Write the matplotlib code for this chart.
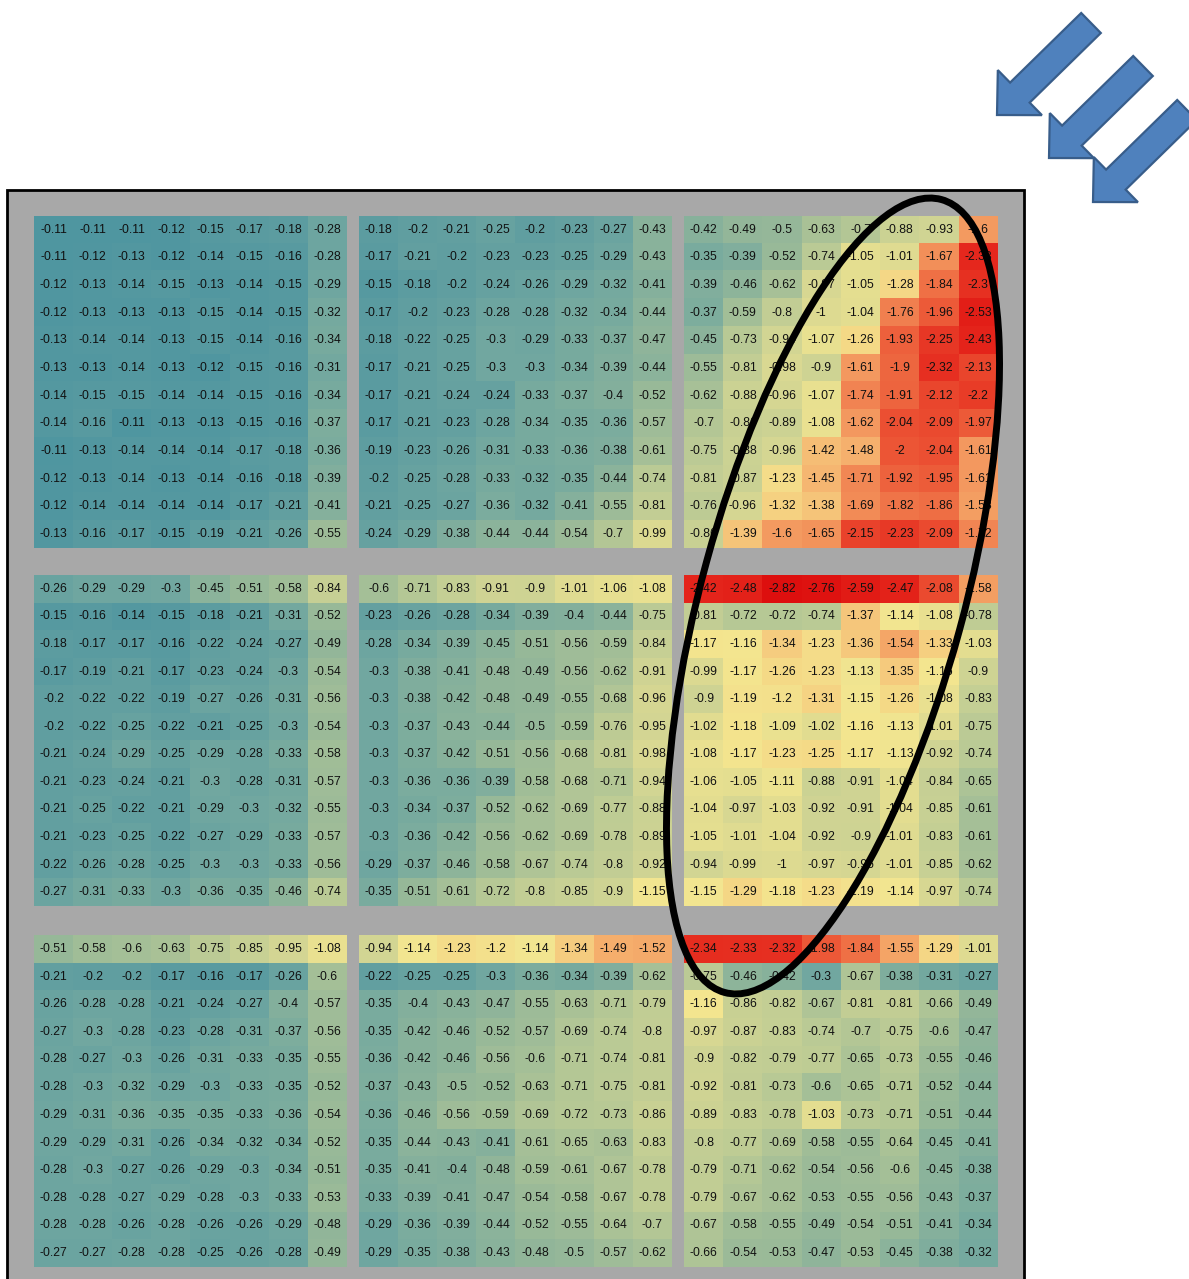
import matplotlib
matplotlib.use("Agg")
import matplotlib.pyplot as plt
import numpy as np
from matplotlib.colors import LinearSegmentedColormap, Normalize
from matplotlib.patches import Rectangle, Ellipse, FancyArrow

W, H = 1189, 1279

# ---- cell values, 3 x 3 blocks of 12 rows x 8 columns ----
block_11 = [
    [-0.11, -0.11, -0.11, -0.12, -0.15, -0.17, -0.18, -0.28],
    [-0.11, -0.12, -0.13, -0.12, -0.14, -0.15, -0.16, -0.28],
    [-0.12, -0.13, -0.14, -0.15, -0.13, -0.14, -0.15, -0.29],
    [-0.12, -0.13, -0.13, -0.13, -0.15, -0.14, -0.15, -0.32],
    [-0.13, -0.14, -0.14, -0.13, -0.15, -0.14, -0.16, -0.34],
    [-0.13, -0.13, -0.14, -0.13, -0.12, -0.15, -0.16, -0.31],
    [-0.14, -0.15, -0.15, -0.14, -0.14, -0.15, -0.16, -0.34],
    [-0.14, -0.16, -0.11, -0.13, -0.13, -0.15, -0.16, -0.37],
    [-0.11, -0.13, -0.14, -0.14, -0.14, -0.17, -0.18, -0.36],
    [-0.12, -0.13, -0.14, -0.13, -0.14, -0.16, -0.18, -0.39],
    [-0.12, -0.14, -0.14, -0.14, -0.14, -0.17, -0.21, -0.41],
    [-0.13, -0.16, -0.17, -0.15, -0.19, -0.21, -0.26, -0.55],
]
block_12 = [
    [-0.18, -0.2, -0.21, -0.25, -0.2, -0.23, -0.27, -0.43],
    [-0.17, -0.21, -0.2, -0.23, -0.23, -0.25, -0.29, -0.43],
    [-0.15, -0.18, -0.2, -0.24, -0.26, -0.29, -0.32, -0.41],
    [-0.17, -0.2, -0.23, -0.28, -0.28, -0.32, -0.34, -0.44],
    [-0.18, -0.22, -0.25, -0.3, -0.29, -0.33, -0.37, -0.47],
    [-0.17, -0.21, -0.25, -0.3, -0.3, -0.34, -0.39, -0.44],
    [-0.17, -0.21, -0.24, -0.24, -0.33, -0.37, -0.4, -0.52],
    [-0.17, -0.21, -0.23, -0.28, -0.34, -0.35, -0.36, -0.57],
    [-0.19, -0.23, -0.26, -0.31, -0.33, -0.36, -0.38, -0.61],
    [-0.2, -0.25, -0.28, -0.33, -0.32, -0.35, -0.44, -0.74],
    [-0.21, -0.25, -0.27, -0.36, -0.32, -0.41, -0.55, -0.81],
    [-0.24, -0.29, -0.38, -0.44, -0.44, -0.54, -0.7, -0.99],
]
block_13 = [
    [-0.42, -0.49, -0.5, -0.63, -0.7, -0.88, -0.93, -1.6],
    [-0.35, -0.39, -0.52, -0.74, -1.05, -1.01, -1.67, -2.38],
    [-0.39, -0.46, -0.62, -0.97, -1.05, -1.28, -1.84, -2.3],
    [-0.37, -0.59, -0.8, -1, -1.04, -1.76, -1.96, -2.53],
    [-0.45, -0.73, -0.94, -1.07, -1.26, -1.93, -2.25, -2.43],
    [-0.55, -0.81, -0.98, -0.9, -1.61, -1.9, -2.32, -2.13],
    [-0.62, -0.88, -0.96, -1.07, -1.74, -1.91, -2.12, -2.2],
    [-0.7, -0.86, -0.89, -1.08, -1.62, -2.04, -2.09, -1.97],
    [-0.75, -0.88, -0.96, -1.42, -1.48, -2, -2.04, -1.61],
    [-0.81, -0.87, -1.23, -1.45, -1.71, -1.92, -1.95, -1.61],
    [-0.76, -0.96, -1.32, -1.38, -1.69, -1.82, -1.86, -1.58],
    [-0.86, -1.39, -1.6, -1.65, -2.15, -2.23, -2.09, -1.72],
]
block_21 = [
    [-0.26, -0.29, -0.29, -0.3, -0.45, -0.51, -0.58, -0.84],
    [-0.15, -0.16, -0.14, -0.15, -0.18, -0.21, -0.31, -0.52],
    [-0.18, -0.17, -0.17, -0.16, -0.22, -0.24, -0.27, -0.49],
    [-0.17, -0.19, -0.21, -0.17, -0.23, -0.24, -0.3, -0.54],
    [-0.2, -0.22, -0.22, -0.19, -0.27, -0.26, -0.31, -0.56],
    [-0.2, -0.22, -0.25, -0.22, -0.21, -0.25, -0.3, -0.54],
    [-0.21, -0.24, -0.29, -0.25, -0.29, -0.28, -0.33, -0.58],
    [-0.21, -0.23, -0.24, -0.21, -0.3, -0.28, -0.31, -0.57],
    [-0.21, -0.25, -0.22, -0.21, -0.29, -0.3, -0.32, -0.55],
    [-0.21, -0.23, -0.25, -0.22, -0.27, -0.29, -0.33, -0.57],
    [-0.22, -0.26, -0.28, -0.25, -0.3, -0.3, -0.33, -0.56],
    [-0.27, -0.31, -0.33, -0.3, -0.36, -0.35, -0.46, -0.74],
]
block_22 = [
    [-0.6, -0.71, -0.83, -0.91, -0.9, -1.01, -1.06, -1.08],
    [-0.23, -0.26, -0.28, -0.34, -0.39, -0.4, -0.44, -0.75],
    [-0.28, -0.34, -0.39, -0.45, -0.51, -0.56, -0.59, -0.84],
    [-0.3, -0.38, -0.41, -0.48, -0.49, -0.56, -0.62, -0.91],
    [-0.3, -0.38, -0.42, -0.48, -0.49, -0.55, -0.68, -0.96],
    [-0.3, -0.37, -0.43, -0.44, -0.5, -0.59, -0.76, -0.95],
    [-0.3, -0.37, -0.42, -0.51, -0.56, -0.68, -0.81, -0.98],
    [-0.3, -0.36, -0.36, -0.39, -0.58, -0.68, -0.71, -0.94],
    [-0.3, -0.34, -0.37, -0.52, -0.62, -0.69, -0.77, -0.88],
    [-0.3, -0.36, -0.42, -0.56, -0.62, -0.69, -0.78, -0.89],
    [-0.29, -0.37, -0.46, -0.58, -0.67, -0.74, -0.8, -0.92],
    [-0.35, -0.51, -0.61, -0.72, -0.8, -0.85, -0.9, -1.15],
]
block_23 = [
    [-2.42, -2.48, -2.82, -2.76, -2.59, -2.47, -2.08, -1.58],
    [-0.81, -0.72, -0.72, -0.74, -1.37, -1.14, -1.08, -0.78],
    [-1.17, -1.16, -1.34, -1.23, -1.36, -1.54, -1.33, -1.03],
    [-0.99, -1.17, -1.26, -1.23, -1.13, -1.35, -1.16, -0.9],
    [-0.9, -1.19, -1.2, -1.31, -1.15, -1.26, -1.08, -0.83],
    [-1.02, -1.18, -1.09, -1.02, -1.16, -1.13, -1.01, -0.75],
    [-1.08, -1.17, -1.23, -1.25, -1.17, -1.13, -0.92, -0.74],
    [-1.06, -1.05, -1.11, -0.88, -0.91, -1.04, -0.84, -0.65],
    [-1.04, -0.97, -1.03, -0.92, -0.91, -1.04, -0.85, -0.61],
    [-1.05, -1.01, -1.04, -0.92, -0.9, -1.01, -0.83, -0.61],
    [-0.94, -0.99, -1, -0.97, -0.96, -1.01, -0.85, -0.62],
    [-1.15, -1.29, -1.18, -1.23, -1.19, -1.14, -0.97, -0.74],
]
block_31 = [
    [-0.51, -0.58, -0.6, -0.63, -0.75, -0.85, -0.95, -1.08],
    [-0.21, -0.2, -0.2, -0.17, -0.16, -0.17, -0.26, -0.6],
    [-0.26, -0.28, -0.28, -0.21, -0.24, -0.27, -0.4, -0.57],
    [-0.27, -0.3, -0.28, -0.23, -0.28, -0.31, -0.37, -0.56],
    [-0.28, -0.27, -0.3, -0.26, -0.31, -0.33, -0.35, -0.55],
    [-0.28, -0.3, -0.32, -0.29, -0.3, -0.33, -0.35, -0.52],
    [-0.29, -0.31, -0.36, -0.35, -0.35, -0.33, -0.36, -0.54],
    [-0.29, -0.29, -0.31, -0.26, -0.34, -0.32, -0.34, -0.52],
    [-0.28, -0.3, -0.27, -0.26, -0.29, -0.3, -0.34, -0.51],
    [-0.28, -0.28, -0.27, -0.29, -0.28, -0.3, -0.33, -0.53],
    [-0.28, -0.28, -0.26, -0.28, -0.26, -0.26, -0.29, -0.48],
    [-0.27, -0.27, -0.28, -0.28, -0.25, -0.26, -0.28, -0.49],
]
block_32 = [
    [-0.94, -1.14, -1.23, -1.2, -1.14, -1.34, -1.49, -1.52],
    [-0.22, -0.25, -0.25, -0.3, -0.36, -0.34, -0.39, -0.62],
    [-0.35, -0.4, -0.43, -0.47, -0.55, -0.63, -0.71, -0.79],
    [-0.35, -0.42, -0.46, -0.52, -0.57, -0.69, -0.74, -0.8],
    [-0.36, -0.42, -0.46, -0.56, -0.6, -0.71, -0.74, -0.81],
    [-0.37, -0.43, -0.5, -0.52, -0.63, -0.71, -0.75, -0.81],
    [-0.36, -0.46, -0.56, -0.59, -0.69, -0.72, -0.73, -0.86],
    [-0.35, -0.44, -0.43, -0.41, -0.61, -0.65, -0.63, -0.83],
    [-0.35, -0.41, -0.4, -0.48, -0.59, -0.61, -0.67, -0.78],
    [-0.33, -0.39, -0.41, -0.47, -0.54, -0.58, -0.67, -0.78],
    [-0.29, -0.36, -0.39, -0.44, -0.52, -0.55, -0.64, -0.7],
    [-0.29, -0.35, -0.38, -0.43, -0.48, -0.5, -0.57, -0.62],
]
block_33 = [
    [-2.34, -2.33, -2.32, -1.98, -1.84, -1.55, -1.29, -1.01],
    [-0.75, -0.46, -0.42, -0.3, -0.67, -0.38, -0.31, -0.27],
    [-1.16, -0.86, -0.82, -0.67, -0.81, -0.81, -0.66, -0.49],
    [-0.97, -0.87, -0.83, -0.74, -0.7, -0.75, -0.6, -0.47],
    [-0.9, -0.82, -0.79, -0.77, -0.65, -0.73, -0.55, -0.46],
    [-0.92, -0.81, -0.73, -0.6, -0.65, -0.71, -0.52, -0.44],
    [-0.89, -0.83, -0.78, -1.03, -0.73, -0.71, -0.51, -0.44],
    [-0.8, -0.77, -0.69, -0.58, -0.55, -0.64, -0.45, -0.41],
    [-0.79, -0.71, -0.62, -0.54, -0.56, -0.6, -0.45, -0.38],
    [-0.79, -0.67, -0.62, -0.53, -0.55, -0.56, -0.43, -0.37],
    [-0.67, -0.58, -0.55, -0.49, -0.54, -0.51, -0.41, -0.34],
    [-0.66, -0.54, -0.53, -0.47, -0.53, -0.45, -0.38, -0.32],
]

blocks = [
    [block_11, block_12, block_13],
    [block_21, block_22, block_23],
    [block_31, block_32, block_33],
]

# ---- colour scale: red (strong) -> yellow -> teal (weak) ----
vmin, vmax = -2.9, -0.1
stops = [
    (-2.9, "#dc0c0c"),
    (-2.4, "#e5261c"),
    (-2.0, "#ec5535"),
    (-1.7, "#f28a56"),
    (-1.5, "#f5ad6c"),
    (-1.3, "#f5d584"),
    (-1.15, "#f3e690"),
    (-1.05, "#e6df90"),
    (-0.95, "#d4d693"),
    (-0.75, "#bccb95"),
    (-0.5, "#96b899"),
    (-0.3, "#72a8a0"),
    (-0.1, "#4f96a0"),
]
cmap = LinearSegmentedColormap.from_list(
    "heat", [((v - vmin) / (vmax - vmin), c) for v, c in stops])
norm = Normalize(vmin=vmin, vmax=vmax)

fig = plt.figure(figsize=(W / 100, H / 100), dpi=100)
fig.patch.set_facecolor("white")

# background frame
bg = fig.add_axes([0, 0, 1, 1], zorder=0)
bg.set_xlim(0, W)
bg.set_ylim(H, 0)
bg.axis("off")
bg.add_patch(Rectangle((7, 190), 1017, 1200, facecolor="#a8a8a8",
                       edgecolor="black", linewidth=2.0))

# panel placement in pixels
col_x = [(34, 347), (359, 672), (684, 998)]
row_y = [(216, 548), (575, 906), (935, 1267)]

for r in range(3):
    for c in range(3):
        x0, x1 = col_x[c]
        y0, y1 = row_y[r]
        ax = fig.add_axes([x0 / W, 1 - y1 / H, (x1 - x0) / W, (y1 - y0) / H],
                          zorder=1)
        data = np.array(blocks[r][c])
        ax.imshow(data, cmap=cmap, norm=norm, aspect="auto",
                  interpolation="nearest")
        nr, nc = data.shape
        for i in range(nr):
            for j in range(nc):
                ax.text(j, i, f"{data[i, j]:g}", ha="center", va="center",
                        fontsize=8.7, color="#111111",
                        family=["Liberation Sans", "DejaVu Sans"])
        ax.set_xticks([])
        ax.set_yticks([])
        for s in ax.spines.values():
            s.set_visible(False)

# overlay: highlight ellipse and pointer arrows
ov = fig.add_axes([0, 0, 1, 1], zorder=5)
ov.set_xlim(0, W)
ov.set_ylim(H, 0)
ov.axis("off")
ov.patch.set_alpha(0)
ov.add_patch(Ellipse((833, 596), width=2 * 131, height=2 * 411, angle=15.3,
                     facecolor="none", edgecolor="black", linewidth=5.0))

for tx, ty in [(1091, 23), (1143, 66), (1187, 110)]:
    ov.add_patch(FancyArrow(tx, ty, -94, 92, width=28, head_width=63,
                            head_length=32, length_includes_head=True,
                            facecolor="#4f81bd", edgecolor="#385d8a",
                            linewidth=1.6))

fig.savefig("out.png", dpi=100, facecolor="white")
